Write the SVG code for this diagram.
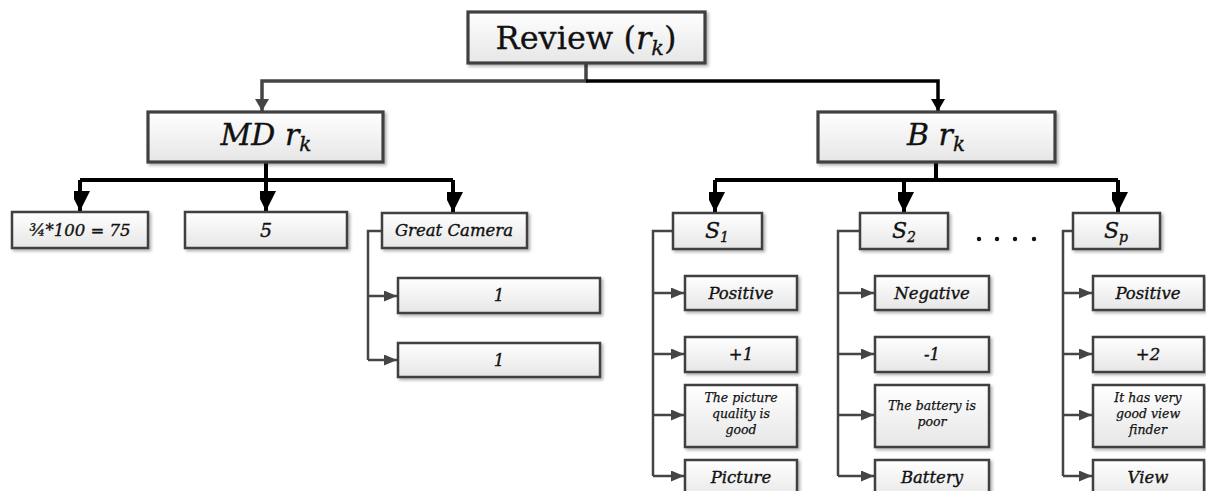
<svg xmlns="http://www.w3.org/2000/svg" width="1206" height="491" viewBox="0 0 1206 491">
<style>
.box{fill:url(#g);stroke:#404040;stroke-width:2.5;filter:url(#sh)}
.big{stroke-width:3.2}
.t{font-family:"DejaVu Serif","Liberation Serif",serif;font-style:italic;fill:#111;stroke:#111;stroke-width:0.35;text-anchor:middle}
.s16{font-size:16.5px}
.s13{font-size:12.5px;stroke-width:0.25}
.thin{fill:none;stroke:#454545;stroke-width:2.5}
.thick{fill:none;stroke:#000;stroke-width:4}
</style>
<defs>
<linearGradient id="g" x1="0" y1="0" x2="0" y2="1"><stop offset="0" stop-color="#ffffff"/><stop offset="1" stop-color="#e6e6e6"/></linearGradient>
<filter id="sh" x="-10%" y="-20%" width="130%" height="160%"><feDropShadow dx="2" dy="2" stdDeviation="1.5" flood-color="#000" flood-opacity="0.3"/></filter>
<marker id="aBig" markerUnits="userSpaceOnUse" markerWidth="20" markerHeight="16" refX="20" refY="10" orient="auto"><path d="M0,0 L20,10 L0,20 Z" fill="#000"/></marker>
<marker id="aTop" markerUnits="userSpaceOnUse" markerWidth="14" markerHeight="14" refX="12" refY="7" orient="auto"><path d="M0,0 L12,7 L0,14 Z" fill="#000"/></marker>
<marker id="aTopG" markerUnits="userSpaceOnUse" markerWidth="14" markerHeight="14" refX="12" refY="7" orient="auto"><path d="M0,0 L12,7 L0,14 Z" fill="#454545"/></marker>
<marker id="aS" markerUnits="userSpaceOnUse" markerWidth="14" markerHeight="12" refX="13" refY="5.5" orient="auto"><path d="M0,0 L13,5.5 L0,11 Z" fill="#454545"/></marker>
</defs>

<g id="connectors">
<path d="M586,63 V81 H262 V111" fill="none" stroke="#454545" stroke-width="3.5" marker-end="url(#aTopG)"/>
<path d="M586,81 H938 V111" fill="none" stroke="#000" stroke-width="3.5" marker-end="url(#aTop)"/>
<path class="thick" d="M266,162 V180"/>
<path class="thick" d="M80,180 H453"/>
<path class="thick" d="M80,180 V211" marker-end="url(#aBig)"/>
<path class="thick" d="M266,180 V211" marker-end="url(#aBig)"/>
<path class="thick" d="M453,180 V212" marker-end="url(#aBig)"/>
<path class="thick" d="M936,162 V180"/>
<path class="thick" d="M715,180 H1118"/>
<path class="thick" d="M715,180 V212" marker-end="url(#aBig)"/>
<path class="thick" d="M904,180 V212" marker-end="url(#aBig)"/>
<path class="thick" d="M1118,180 V212" marker-end="url(#aBig)"/>
<path class="thin" d="M382,231 H368 V360"/>
<path class="thin" d="M368,296 H397" marker-end="url(#aS)"/>
<path class="thin" d="M368,360 H397" marker-end="url(#aS)"/>
<path class="thin" d="M673,231 H653 V476"/>
<path class="thin" d="M653,293 H684" marker-end="url(#aS)"/>
<path class="thin" d="M653,354 H684" marker-end="url(#aS)"/>
<path class="thin" d="M653,415 H684" marker-end="url(#aS)"/>
<path class="thin" d="M653,476 H684" marker-end="url(#aS)"/>
<path class="thin" d="M860,231 H838 V476"/>
<path class="thin" d="M838,293 H874" marker-end="url(#aS)"/>
<path class="thin" d="M838,354 H874" marker-end="url(#aS)"/>
<path class="thin" d="M838,415 H874" marker-end="url(#aS)"/>
<path class="thin" d="M838,476 H874" marker-end="url(#aS)"/>
<path class="thin" d="M1073,231 H1063 V476"/>
<path class="thin" d="M1063,293 H1092" marker-end="url(#aS)"/>
<path class="thin" d="M1063,354 H1092" marker-end="url(#aS)"/>
<path class="thin" d="M1063,415 H1092" marker-end="url(#aS)"/>
<path class="thin" d="M1063,476 H1092" marker-end="url(#aS)"/>
</g>

<g id="review"><rect class="box big" x="468" y="12" width="237" height="51"/>
<text x="586" y="49" style="font-family:'DejaVu Serif','Liberation Serif',serif;font-size:32px;fill:#111;stroke:#111;stroke-width:0.3;text-anchor:middle">Review (<tspan font-style="italic">r</tspan><tspan font-style="italic" font-size="21" dy="6">k</tspan><tspan dy="-6">)</tspan></text></g>

<g id="md"><rect class="box big" x="148" y="112" width="235" height="50"/>
<text class="t" x="266" y="145" font-size="30">MD r<tspan font-size="20" dy="6">k</tspan></text></g>

<g id="b"><rect class="box big" x="818" y="112" width="237" height="50"/>
<text class="t" x="936" y="145" font-size="30">B r<tspan font-size="20" dy="6">k</tspan></text></g>

<g id="n-frac"><rect class="box" x="12" y="212" width="136" height="36"/><text class="t s16" x="80" y="236">¾*100 = 75</text></g>
<g id="n-5"><rect class="box" x="185" y="212" width="162" height="36"/><text class="t" x="266" y="237" font-size="19">5</text></g>
<g id="n-gc"><rect class="box" x="382" y="213" width="145" height="35"/><text class="t s16" x="454" y="236">Great Camera</text></g>
<g id="n-1a"><rect class="box" x="398" y="278" width="202" height="35"/><text class="t s16" x="499" y="301">1</text></g>
<g id="n-1b"><rect class="box" x="398" y="343" width="202" height="34"/><text class="t s16" x="499" y="366">1</text></g>

<g id="s1"><rect class="box" x="673" y="213" width="89" height="36"/><text class="t" x="717" y="238" font-size="22">S<tspan font-size="14" dy="4">1</tspan></text></g>
<g id="s1-pos"><rect class="box" x="685" y="276" width="112" height="34"/><text class="t s16" x="741" y="299">Positive</text></g>
<g id="s1-val"><rect class="box" x="685" y="337" width="112" height="35"/><text class="t s16" x="741" y="360">+1</text></g>
<g id="s1-txt"><rect class="box" x="685" y="385" width="112" height="62"/><text class="t s13" x="741" y="402">The picture<tspan x="741" dy="16">quality is</tspan><tspan x="741" dy="16">good</tspan></text></g>
<g id="s1-asp"><rect class="box" x="685" y="460" width="112" height="40"/><text class="t s16" x="741" y="483">Picture</text></g>

<g id="s2"><rect class="box" x="860" y="213" width="88" height="36"/><text class="t" x="904" y="238" font-size="22">S<tspan font-size="14" dy="4">2</tspan></text></g>
<g id="s2-pos"><rect class="box" x="875" y="276" width="114" height="34"/><text class="t s16" x="932" y="299">Negative</text></g>
<g id="s2-val"><rect class="box" x="875" y="337" width="114" height="35"/><text class="t s16" x="932" y="360">-1</text></g>
<g id="s2-txt"><rect class="box" x="875" y="385" width="114" height="62"/><text class="t s13" x="932" y="410">The battery is<tspan x="932" dy="16">poor</tspan></text></g>
<g id="s2-asp"><rect class="box" x="875" y="460" width="114" height="40"/><text class="t s16" x="932" y="483">Battery</text></g>

<g id="dots" fill="#111"><circle cx="979" cy="239" r="2.2"/><circle cx="997" cy="239" r="2.2"/><circle cx="1015" cy="239" r="2.2"/><circle cx="1034" cy="239" r="2.2"/></g>

<g id="sp"><rect class="box" x="1073" y="213" width="87" height="36"/><text class="t" x="1116" y="238" font-size="22">S<tspan font-size="14" dy="4">p</tspan></text></g>
<g id="sp-pos"><rect class="box" x="1093" y="276" width="111" height="34"/><text class="t s16" x="1148" y="299">Positive</text></g>
<g id="sp-val"><rect class="box" x="1093" y="337" width="111" height="35"/><text class="t s16" x="1148" y="360">+2</text></g>
<g id="sp-txt"><rect class="box" x="1093" y="385" width="111" height="62"/><text class="t s13" x="1148" y="402">It has very<tspan x="1148" dy="16">good view</tspan><tspan x="1148" dy="16">finder</tspan></text></g>
<g id="sp-asp"><rect class="box" x="1093" y="460" width="111" height="40"/><text class="t s16" x="1148" y="483">View</text></g>
</svg>
